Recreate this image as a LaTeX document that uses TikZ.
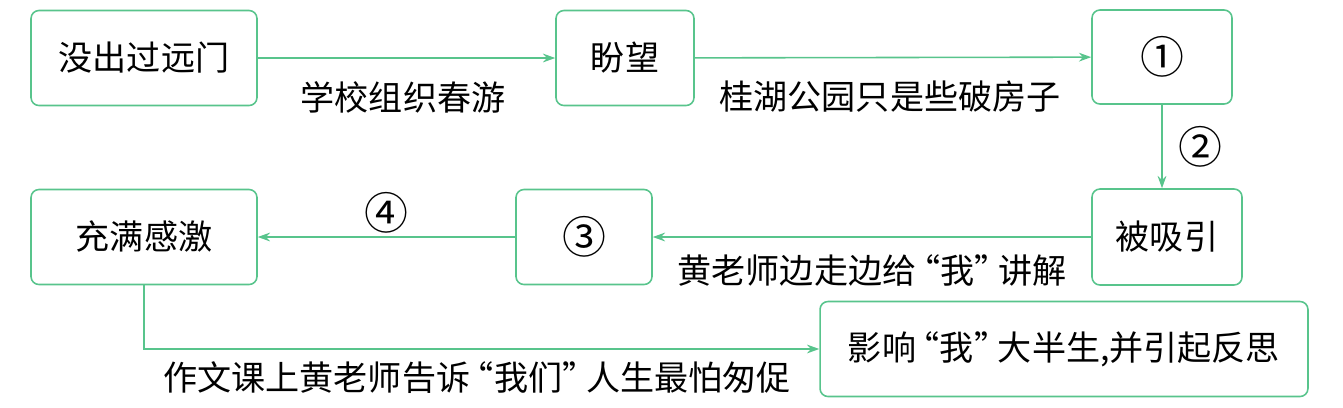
\documentclass[tikz,border=0pt]{standalone}
\usepackage{fontspec}
\setmainfont{Noto Sans CJK SC}
\usepackage{xcolor}
\definecolor{colFlow}{RGB}{88,196,140}
\usetikzlibrary{arrows.meta, positioning}
\newcommand{\quoted}[1]{\kern-0.3em“#1”\kern-0.3em}
\tikzset{
	stepbox/.style={draw=colFlow, line width=0.9pt, rounded corners=4.5pt, minimum height=1.9cm, inner sep=0pt, font=\fontsize{19.4}{22}\selectfont},
	flowarr/.style={-{Stealth[length=7pt, width=5pt]}, draw=colFlow, line width=0.9pt},
	flowlabel/.style={inner sep=0pt, font=\fontsize{19.4}{22}\selectfont},
	marknum/.style={font=\fontsize{25}{28}\selectfont},
}

\begin{document}
\begin{tikzpicture}[x=0.02cm, y=-0.02cm]
	\useasboundingbox (0,0) rectangle (1343,407);

	% Row 1
	\node[stepbox, minimum width=4.52cm] (start) at (144,58) {没出过远门};
	\node[stepbox, minimum width=2.76cm] (hope) at (625,58) {盼望};
	\node[stepbox, marknum, minimum width=2.8cm, minimum height=1.88cm] (one) at (1162,57) {①};

	% Row 2
	\node[stepbox, minimum width=3cm, minimum height=1.92cm] (drawn) at (1167,237) {被吸引};
	\node[stepbox, marknum, minimum width=2.72cm] (three) at (584,237) {③};
	\node[stepbox, minimum width=4.52cm] (grateful) at (144,237) {充满感激};

	% Row 3
	\node[stepbox, minimum width=9.76cm] (effect) at (1064,349) {影响\quoted{我}大半生,并引起反思};

	% Labels
	\node[flowlabel] (trip) at (403,97) {学校组织春游};
	\node[flowlabel] (park) at (890,97) {桂湖公园只是些破房子};
	\node[flowlabel, marknum] (two) at (1200,147) {②};
	\node[flowlabel, marknum] (four) at (386,213) {④};
	\node[flowlabel] (walk) at (872,270) {黄老师边走边给\quoted{我}讲解};
	\node[flowlabel] (lesson) at (477,378) {作文课上黄老师告诉\quoted{我们}人生最怕匆促};

	% Arrows
	\draw[flowarr] (start) -- (hope);
	\draw[flowarr] (hope) -- (one);
	\draw[flowarr] (one) -- (one |- drawn.north);
	\draw[flowarr] (drawn) -- (three);
	\draw[flowarr] (three) -- (grateful);
	\draw[flowarr] (grateful.south) |- (effect.west);
\end{tikzpicture}
\end{document}
